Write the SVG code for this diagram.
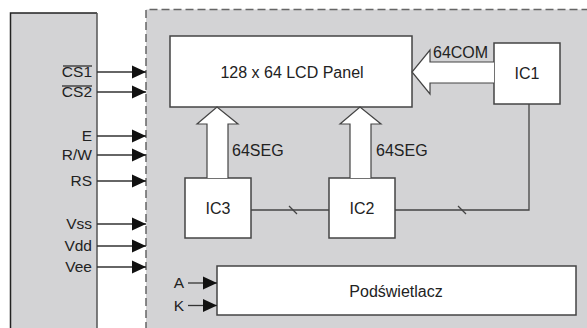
<svg xmlns="http://www.w3.org/2000/svg" width="587" height="328" viewBox="0 0 587 328">
<defs>
<marker id="ah" markerWidth="14" markerHeight="14" viewBox="0 0 14 14" refX="14" refY="7" orient="auto" markerUnits="userSpaceOnUse">
<path d="M0,0.5 L14,7 L0,13.5 Z" fill="#111"/>
</marker>
</defs>
<style>
text{font-family:"Liberation Sans",Arial,sans-serif;font-size:15.5px;fill:#222}
.big{font-size:16px}
.box{fill:#fff;stroke:#444;stroke-width:1.5}
.sig{stroke:#333;stroke-width:1.3;fill:none}
.bus{fill:#fff;stroke:#444;stroke-width:1.2}
.wire{stroke:#444;stroke-width:1.3;fill:none}
</style>
<rect width="587" height="328" fill="#fff"/>
<g id="controller">
<rect x="10.5" y="13" width="86.5" height="320" fill="#d3d3d5"/>
<path d="M10.5,330 V13 H97" fill="none" stroke="#222" stroke-width="1.5"/>
<path d="M97,13 V330" fill="none" stroke="#555" stroke-width="1.5"/>
</g>
<g id="module">
<rect x="146" y="9.5" width="445" height="325" fill="#d3d3d5"/>
<path d="M146,330 V9.5 H587" fill="none" stroke="#666" stroke-width="1.5" stroke-dasharray="8,4"/>
</g>
<g id="lcd">
<rect class="box" x="170" y="36" width="242" height="71"/>
<text class="big" x="292" y="78" text-anchor="middle">128 x 64 LCD Panel</text>
</g>
<g id="ic1">
<rect class="box" x="494" y="43" width="66" height="61"/>
<text class="big" x="527" y="79" text-anchor="middle">IC1</text>
</g>
<g id="ic2">
<rect class="box" x="329" y="178" width="66" height="60"/>
<text class="big" x="362" y="214" text-anchor="middle">IC2</text>
</g>
<g id="ic3">
<rect class="box" x="185" y="178" width="66" height="60"/>
<text class="big" x="218" y="214" text-anchor="middle">IC3</text>
</g>
<g id="backlight">
<rect class="box" x="217" y="266" width="359" height="49"/>
<text class="big" x="396" y="297" text-anchor="middle">Podświetlacz</text>
</g>
<g id="connectors">
<path class="sig" d="M97,72 H146" marker-end="url(#ah)"/>
<path class="sig" d="M97,92 H146" marker-end="url(#ah)"/>
<path class="sig" d="M97,136 H146" marker-end="url(#ah)"/>
<path class="sig" d="M97,155 H146" marker-end="url(#ah)"/>
<path class="sig" d="M97,181 H146" marker-end="url(#ah)"/>
<path class="sig" d="M97,224 H146" marker-end="url(#ah)"/>
<path class="sig" d="M97,246 H146" marker-end="url(#ah)"/>
<path class="sig" d="M97,267 H146" marker-end="url(#ah)"/>
<path class="sig" d="M188,283 H217" marker-end="url(#ah)"/>
<path class="sig" d="M188,305.5 H217" marker-end="url(#ah)"/>
<path class="bus" d="M494,62 H430 V50 L412,72 L430,94 V83 H494"/>
<path class="bus" d="M207,178 V124 H197 L217,107 L238,124 H228 V178"/>
<path class="bus" d="M350,178 V124 H340 L360,107 L381,124 H371 V178"/>
<path class="wire" d="M251,210 H329"/>
<path class="wire" d="M289,206 L297,214"/>
<path class="wire" d="M529,104 V210 H395"/>
<path class="wire" d="M458,206 L466,214"/>
</g>
<g id="labels">
<text x="92" y="77" text-anchor="end">CS1</text>
<path d="M63,66 H92" stroke="#222" stroke-width="1.2"/>
<text x="92" y="97" text-anchor="end">CS2</text>
<path d="M62,86 H92" stroke="#222" stroke-width="1.2"/>
<text x="92" y="141" text-anchor="end">E</text>
<text x="92" y="160" text-anchor="end">R/W</text>
<text x="92" y="186" text-anchor="end">RS</text>
<text x="92" y="229" text-anchor="end">Vss</text>
<text x="92" y="251" text-anchor="end">Vdd</text>
<text x="92" y="272" text-anchor="end">Vee</text>
<text x="184" y="288" text-anchor="end">A</text>
<text x="184" y="311" text-anchor="end">K</text>
<text class="big" x="433" y="58">64COM</text>
<text class="big" x="232" y="156">64SEG</text>
<text class="big" x="376" y="156">64SEG</text>
</g>
</svg>
